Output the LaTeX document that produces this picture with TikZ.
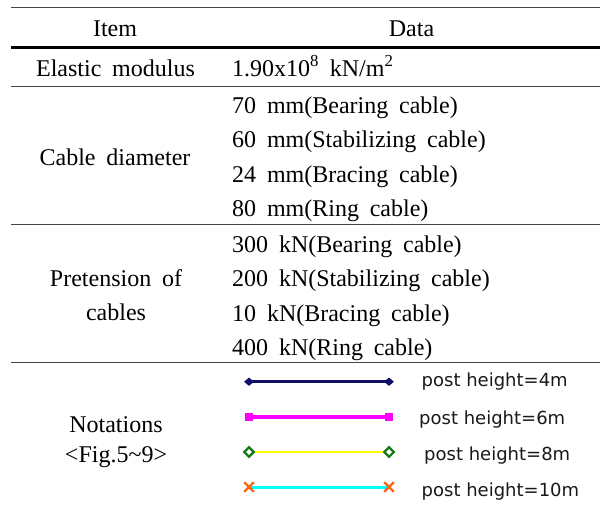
\documentclass[tikz,border=0pt]{standalone}
\usepackage{fontspec}
\setmainfont{Liberation Serif}[WordSpace=1.8]
\newfontfamily\legendfont{DejaVu Sans}
\usepackage{tikz}
\usetikzlibrary{shapes.geometric,shapes.misc}
\definecolor{navyline}{RGB}{15,15,105}
\definecolor{magline}{RGB}{255,0,255}
\definecolor{yelline}{RGB}{255,255,0}
\definecolor{cyanline}{RGB}{0,255,255}
\definecolor{mkgreen}{RGB}{20,120,20}
\definecolor{mkorange}{RGB}{255,100,20}
\definecolor{rulegray}{RGB}{70,70,70}

\begin{document}
\begin{tikzpicture}[
    x=1pt, y=-1pt,
    % table text
    item/.style={anchor=base, inner sep=0pt, font=\fontsize{24}{28}\selectfont},
    datatxt/.style={anchor=base west, inner sep=0pt, font=\fontsize{24}{28}\selectfont},
    legtxt/.style={anchor=base west, inner sep=0pt, text=black!90, font=\legendfont\fontsize{18}{22}\selectfont},
    % rules
    rule/.style={draw=rulegray, line width=1.3pt},
    thickrule/.style={draw=black, line width=3.2pt},
    % legend lines and markers
    ln1/.style={draw=navyline, line width=2.5pt},
    ln2/.style={draw=magline, line width=3.5pt},
    ln3/.style={draw=yelline, line width=2.3pt},
    ln4/.style={draw=cyanline, line width=3pt},
    mk1/.style={diamond, fill=navyline, inner sep=0pt, minimum width=10pt, minimum height=8.5pt},
    mk2/.style={rectangle, fill=magline, inner sep=0pt, minimum size=8pt},
    mk3/.style={diamond, draw=mkgreen, fill=white, line width=2.2pt, inner sep=0pt, minimum size=10.5pt},
    mk4/.style={cross out, draw=mkorange, line width=2.2pt, inner sep=0pt, minimum size=7.5pt},
]
\useasboundingbox (0,0) rectangle (600,515);

% -------------------------
% Rules
% -------------------------
\coordinate (r0l) at (11,7.3);   \coordinate (r0r) at (600,7.3);
\coordinate (r1l) at (11,47.5);  \coordinate (r1r) at (600,47.5);
\coordinate (r2l) at (11,86.5);  \coordinate (r2r) at (600,86.5);
\coordinate (r3l) at (11,224.5); \coordinate (r3r) at (600,224.5);
\coordinate (r4l) at (11,362.5); \coordinate (r4r) at (600,362.5);

\draw[rule] (r0l) -- (r0r);
\draw[thickrule] (r1l) -- (r1r);
\draw[rule] (r2l) -- (r2r);
\draw[rule] (r3l) -- (r3r);
\draw[rule] (r4l) -- (r4r);

% -------------------------
% Header and first row
% -------------------------
\node[item] (hItem) at (115,36.7) {Item};
\node[item] (hData) at (411.5,36.7) {Data};

\node[item] (elast) at (115.5,76) {Elastic modulus};
\node[datatxt] (elastV) at (232,76) {1.90x10\textsuperscript{8} kN/m\textsuperscript{2}};

% -------------------------
% Cable diameter
% -------------------------
\node[item] (diam) at (115,165.5) {Cable diameter};
\foreach \t [count=\i] in {70 mm(Bearing cable), 60 mm(Stabilizing cable),
                           24 mm(Bracing cable), 80 mm(Ring cable)}{
  \node[datatxt] (diam\i) at (232,{78.8+34.5*\i}) {\t};
}

% -------------------------
% Pretension of cables
% -------------------------
\node[item] (pret1) at (116,286) {Pretension of};
\node[item] (pret2) at (116,320.5) {cables};
\foreach \t [count=\i] in {300 kN(Bearing cable), 200 kN(Stabilizing cable),
                           10 kN(Bracing cable), 400 kN(Ring cable)}{
  \node[datatxt] (pret\i V) at (232,{217.5+34.5*\i}) {\t};
}

% -------------------------
% Notations (legend)
% -------------------------
\node[item] (nota1) at (116,432) {Notations};
\node[item] (nota2) at (116,462) {<Fig.5\textasciitilde9>};

\coordinate (l1a) at (249,381.7); \coordinate (l1b) at (389,381.7);
\coordinate (l2a) at (249,417);   \coordinate (l2b) at (389,417);
\coordinate (l3a) at (249,452);   \coordinate (l3b) at (389,452);
\coordinate (l4a) at (249,487);   \coordinate (l4b) at (389,487);

\draw[ln1] (l1a) -- (l1b);
\draw[ln2] (l2a) -- (l2b);
\draw[ln3] (l3a) -- (l3b);
\draw[ln4] (l4a) -- (l4b);

\node[mk1] (m1a) at (l1a) {}; \node[mk1] (m1b) at (l1b) {};
\node[mk2] (m2a) at (l2a) {}; \node[mk2] (m2b) at (l2b) {};
\node[mk3] (m3a) at (l3a) {}; \node[mk3] (m3b) at (l3b) {};
\node[mk4] (m4a) at (l4a) {}; \node[mk4] (m4b) at (l4b) {};

\node[legtxt] (t1) at (421.5,386.5) {post height=4m};
\node[legtxt] (t2) at (419,424.5) {post height=6m};
\node[legtxt] (t3) at (424,460) {post height=8m};
\node[legtxt] (t4) at (421.5,496.5) {post height=10m};

\end{tikzpicture}
\end{document}
